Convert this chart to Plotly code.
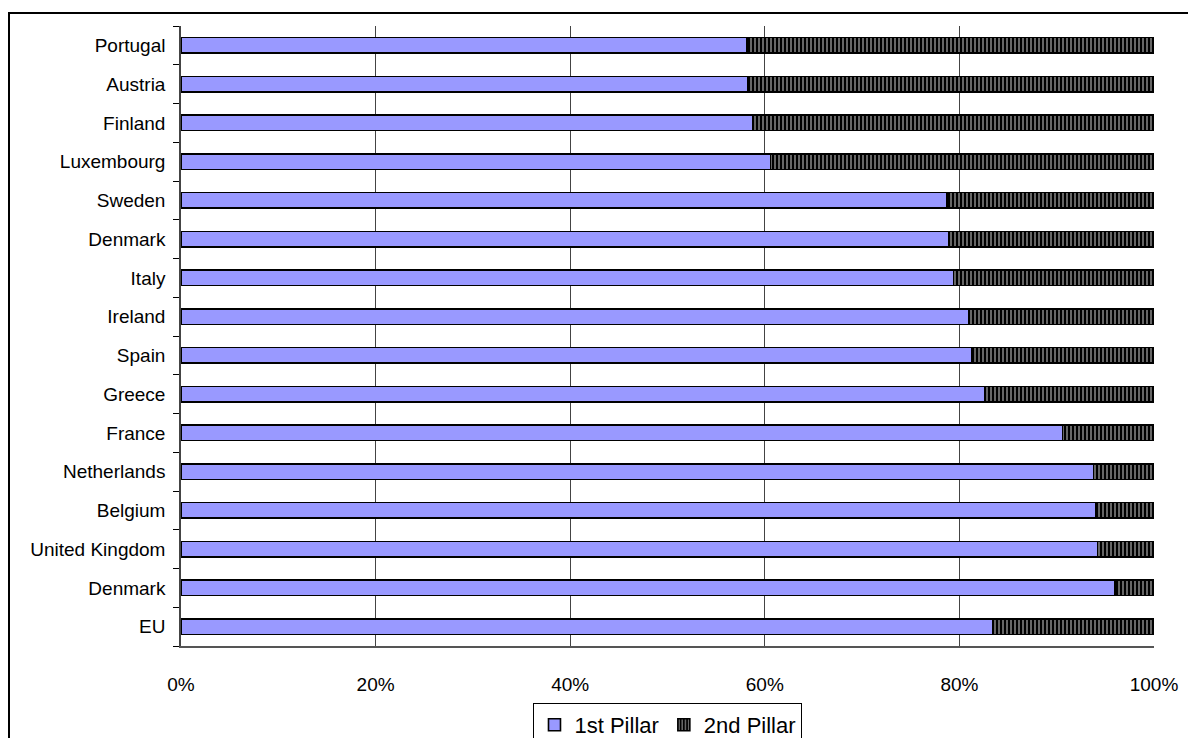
import plotly.graph_objects as go

countries = ["Portugal", "Austria", "Finland", "Luxembourg", "Sweden", "Denmark",
             "Italy", "Ireland", "Spain", "Greece", "France", "Netherlands",
             "Belgium", "United Kingdom", "Denmark", "EU"]
first_pillar = [58.2, 58.3, 58.8, 60.6, 78.7, 78.9, 79.4, 81.0, 81.3, 82.6,
                90.6, 93.8, 94.0, 94.2, 96.0, 83.4]
second_pillar = [100 - v for v in first_pillar]
x_ticks = [0, 0.2, 0.4, 0.6, 0.8, 1.0]
x_tick_labels = ["0%", "20%", "40%", "60%", "80%", "100%"]

ypos = list(range(len(countries)))

fig = go.Figure()
fig.add_trace(go.Bar(
    y=ypos, x=[v / 100 for v in first_pillar], orientation="h", name="1st Pillar",
    marker=dict(color="#9999FF", line=dict(color="black", width=1.6)),
))
fig.add_trace(go.Bar(
    y=ypos, x=[v / 100 for v in second_pillar], orientation="h", name="2nd Pillar",
    marker=dict(color="black", line=dict(color="black", width=1.6),
                pattern=dict(shape="|", fgcolor="white", size=4, solidity=0.4,
                             fillmode="overlay")),
))

fig.update_layout(
    barmode="stack",
    bargap=0.6,
    width=1188, height=730,
    margin=dict(l=173, r=42, t=18, b=92, autoexpand=False),
    paper_bgcolor="white", plot_bgcolor="white",
    font=dict(family="Liberation Sans, Arial, sans-serif", size=19, color="black"),
    showlegend=True,
    legend=dict(orientation="h", x=0.5005, xanchor="center", y=-0.0919, yanchor="top",
                traceorder="normal",
                bordercolor="black", borderwidth=1, font=dict(size=22),
                tracegroupgap=0),
    xaxis=dict(range=[0, 1], tickvals=x_ticks, ticktext=x_tick_labels,
               showgrid=True, gridcolor="#444444", gridwidth=1,
               showline=True, linecolor="#555555", linewidth=1.5,
               ticks="", ticklabelstandoff=20, zeroline=False, fixedrange=True),
    yaxis=dict(range=[len(countries) - 0.5, -0.5], tickvals=ypos, ticktext=countries,
               showgrid=False, zeroline=False, showline=True, linecolor="#444444",
               linewidth=1.5, ticks="", ticklabelstandoff=10,
               minor=dict(tickvals=[i - 0.5 for i in range(len(countries) + 1)],
                          ticks="outside", ticklen=6, tickcolor="black", tickwidth=1)),
    shapes=[dict(type="rect", xref="paper", yref="paper",
                 x0=(1 - 173) / 973, x1=1.06, y0=-0.2, y1=1 + 13 / 620,
                 line=dict(color="black", width=2), fillcolor="rgba(0,0,0,0)", layer="below")],
)

fig.write_html("out.html")
